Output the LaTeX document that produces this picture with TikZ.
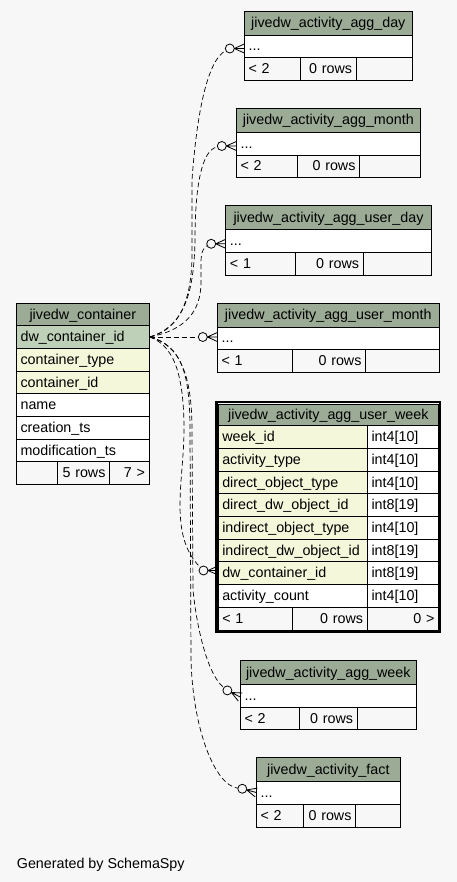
\documentclass[tikz,border=0pt]{standalone}
\usepackage{fontspec}
\setmainfont{Liberation Sans}
\definecolor{bgc}{HTML}{F7F7F7}
\definecolor{hdr}{HTML}{9BAB96}
\definecolor{pkc}{HTML}{BED1B8}
\definecolor{idx}{HTML}{F4F7DA}
\tikzset{
  cellbox/.style={draw=black, line width=0.8pt, inner xsep=4.25pt, inner ysep=0pt,
    text height=11pt, text depth=1.5pt, font=\fontsize{14.3}{16}\selectfont},
  rel/.style={draw=black, line width=0.7pt, dash pattern=on 5pt off 3pt},
  erc/.style={circle, draw=black, fill=bgc, line width=0.8pt, minimum size=9pt, inner sep=0pt},
  crowl/.style={line width=0.8pt},
  frameline/.style={draw=black, line width=2.2pt},
}
\newcommand\ercell[8]{%
  \pgfmathsetmacro\ercW{#4-#2}%
  \pgfmathsetmacro\ercH{#5-#3}%
  \pgfmathsetmacro\ercT{#4-#2-8.5}%
  \pgfmathsetmacro\ercX{(#2+#4)/2}%
  \pgfmathsetmacro\ercY{(#3+#5)/2}%
  \node[cellbox, fill=#6, minimum width=\ercW pt, minimum height=\ercH pt,
    text width=\ercT pt, align=#7] (#1) at (\ercX,\ercY) {#8};%
}
\newcommand\erend[4]{%
  \begin{scope}[shift={(#2,#3)}, rotate=#4]
    \node[erc] (#1) at (-14.5,0) {};
    \draw[crowl] (-10,0) -- (0,4.5) (-10,0) -- (0,-4.5) (-10,0) -- (0,0);
  \end{scope}%
}
\begin{document}
\begin{tikzpicture}[x=1pt, y=-1pt]
\path[use as bounding box, fill=bgc] (0,0) rectangle (457,882);

% jivedw_activity_agg_day
\ercell{dh}{244.3}{11}{412.3}{35}{hdr}{center}{jivedw\_activity\_agg\_day}
\ercell{dr}{244.3}{35}{412.3}{57}{white}{left}{...}
\ercell{df1}{244.3}{57}{300.3}{80}{bgc}{left}{< 2}
\ercell{df2}{300.3}{57}{356.3}{80}{bgc}{right}{0 rows}
\ercell{df3}{356.3}{57}{412.3}{80}{bgc}{right}{}

% jivedw_activity_agg_month
\ercell{mh}{236.3}{108}{420.3}{132}{hdr}{center}{jivedw\_activity\_agg\_month}
\ercell{mr}{236.3}{132}{420.3}{155}{white}{left}{...}
\ercell{mf1}{236.3}{155}{297.7}{177}{bgc}{left}{< 2}
\ercell{mf2}{297.7}{155}{359.7}{177}{bgc}{right}{0 rows}
\ercell{mf3}{359.7}{155}{420.3}{177}{bgc}{right}{}

% jivedw_activity_agg_user_day
\ercell{udh}{225.7}{205.7}{431.3}{229.3}{hdr}{center}{jivedw\_activity\_agg\_user\_day}
\ercell{udr}{225.7}{229.3}{431.3}{252.3}{white}{left}{...}
\ercell{udf1}{225.7}{252.3}{295.3}{275.3}{bgc}{left}{< 1}
\ercell{udf2}{295.3}{252.3}{363.3}{275.3}{bgc}{right}{0 rows}
\ercell{udf3}{363.3}{252.3}{431.3}{275.3}{bgc}{right}{}

% jivedw_activity_agg_user_month
\ercell{umh}{217.3}{303.3}{439.3}{327}{hdr}{center}{jivedw\_activity\_agg\_user\_month}
\ercell{umr}{217.3}{327}{439.3}{349.3}{white}{left}{...}
\ercell{umf1}{217.3}{349.3}{292.7}{372}{bgc}{left}{< 1}
\ercell{umf2}{292.7}{349.3}{365.7}{372}{bgc}{right}{0 rows}
\ercell{umf3}{365.7}{349.3}{439.3}{372}{bgc}{right}{}

% jivedw_container
\ercell{ch}{16.3}{303.7}{149.3}{325.7}{hdr}{center}{jivedw\_container}
\ercell{cdw}{16.3}{325.7}{149.3}{348.3}{pkc}{left}{dw\_container\_id}
\ercell{cct}{16.3}{348.3}{149.3}{371}{idx}{left}{container\_type}
\ercell{cci}{16.3}{371}{149.3}{393.7}{idx}{left}{container\_id}
\ercell{cnm}{16.3}{393.7}{149.3}{416.3}{white}{left}{name}
\ercell{ccr}{16.3}{416.3}{149.3}{439.3}{white}{left}{creation\_ts}
\ercell{cmo}{16.3}{439.3}{149.3}{461.7}{white}{left}{modification\_ts}
\ercell{cf1}{16.3}{461.7}{57.7}{484.3}{bgc}{left}{}
\ercell{cf2}{57.7}{461.7}{109.7}{484.3}{bgc}{right}{5 rows}
\ercell{cf3}{109.7}{461.7}{149.3}{484.3}{bgc}{right}{7 >}

% jivedw_activity_agg_user_week
\ercell{uwh}{218}{404}{438.7}{425}{hdr}{center}{jivedw\_activity\_agg\_user\_week}
\ercell{uw1}{218}{425}{367.3}{448.3}{idx}{left}{week\_id}
\ercell{uw1t}{367.3}{425}{438.7}{448.3}{white}{left}{int4[10]}
\ercell{uw2}{218}{448.3}{367.3}{471.3}{idx}{left}{activity\_type}
\ercell{uw2t}{367.3}{448.3}{438.7}{471.3}{white}{left}{int4[10]}
\ercell{uw3}{218}{471.3}{367.3}{493.7}{idx}{left}{direct\_object\_type}
\ercell{uw3t}{367.3}{471.3}{438.7}{493.7}{white}{left}{int4[10]}
\ercell{uw4}{218}{493.7}{367.3}{516.3}{idx}{left}{direct\_dw\_object\_id}
\ercell{uw4t}{367.3}{493.7}{438.7}{516.3}{white}{left}{int8[19]}
\ercell{uw5}{218}{516.3}{367.3}{539.3}{idx}{left}{indirect\_object\_type}
\ercell{uw5t}{367.3}{516.3}{438.7}{539.3}{white}{left}{int4[10]}
\ercell{uw6}{218}{539.3}{367.3}{561.7}{idx}{left}{indirect\_dw\_object\_id}
\ercell{uw6t}{367.3}{539.3}{438.7}{561.7}{white}{left}{int8[19]}
\ercell{uw7}{218}{561.7}{367.3}{584.3}{idx}{left}{dw\_container\_id}
\ercell{uw7t}{367.3}{561.7}{438.7}{584.3}{white}{left}{int8[19]}
\ercell{uw8}{218}{584.3}{367.3}{607.3}{white}{left}{activity\_count}
\ercell{uw8t}{367.3}{584.3}{438.7}{607.3}{white}{left}{int4[10]}
\ercell{uwf1}{218}{607.3}{292.3}{630}{bgc}{left}{< 1}
\ercell{uwf2}{292.3}{607.3}{367.3}{630}{bgc}{right}{0 rows}
\ercell{uwf3}{367.3}{607.3}{438.7}{630}{bgc}{right}{0 >}
\draw[frameline] (216.4,401.8) rectangle (439.9,632.2);

% jivedw_activity_agg_week
\ercell{wh}{240.3}{660.7}{416.3}{684.3}{hdr}{center}{jivedw\_activity\_agg\_week}
\ercell{wr}{240.3}{684.3}{416.3}{707.3}{white}{left}{...}
\ercell{wf1}{240.3}{707.3}{299.3}{729.3}{bgc}{left}{< 2}
\ercell{wf2}{299.3}{707.3}{357.3}{729.3}{bgc}{right}{0 rows}
\ercell{wf3}{357.3}{707.3}{416.3}{729.3}{bgc}{right}{}

% jivedw_activity_fact
\ercell{fh}{256.3}{757.7}{400.3}{781.3}{hdr}{center}{jivedw\_activity\_fact}
\ercell{fr}{256.3}{781.3}{400.3}{804.3}{white}{left}{...}
\ercell{ff1}{256.3}{804.3}{303.3}{827}{bgc}{left}{< 2}
\ercell{ff2}{303.3}{804.3}{355.7}{827}{bgc}{right}{0 rows}
\ercell{ff3}{355.7}{804.3}{400.3}{827}{bgc}{right}{}

% relationship ends
\erend{eday}{244.3}{48.5}{0}
\erend{emonth}{236.3}{146}{0}
\erend{euday}{225.7}{243.8}{0}
\erend{eumonth}{217.3}{337}{0}
\erend{euweek}{218}{570.5}{0}
\erend{eaweek}{240.3}{697}{-27}
\erend{efact}{256.3}{792.5}{-15}

\coordinate (src) at (cdw.east);

% connectors
\draw[rel] (src) .. controls (175,330) and (190,310) .. (192,260) -- (192,180) .. controls (197,110) and (208,60) .. (eday);
\draw[rel] (src) .. controls (178,328) and (194,305) .. (195,240) .. controls (195,185) and (202,150) .. (emonth);
\draw[rel] (src) .. controls (185,330) and (201,312) .. (201,282) -- (201,262) .. controls (201,252) and (204,247) .. (euday);
\draw[rel] (src) -- (eumonth);
\draw[rel] (src) .. controls (172,345) and (184,370) .. (184,430) .. controls (184,480) and (168,535) .. (euweek);
\draw[rel] (src) .. controls (180,345) and (192,375) .. (192,430) -- (193,590) .. controls (197,630) and (208,675) .. (eaweek);
\draw[rel] (src) .. controls (182,345) and (190,375) .. (190,430) -- (191,660) .. controls (193,730) and (215,785) .. (efact);

\node[anchor=base west, inner sep=0pt, font=\fontsize{14.3}{16}\selectfont] (gen) at (16.7,868) {Generated by SchemaSpy};
\end{tikzpicture}
\end{document}
